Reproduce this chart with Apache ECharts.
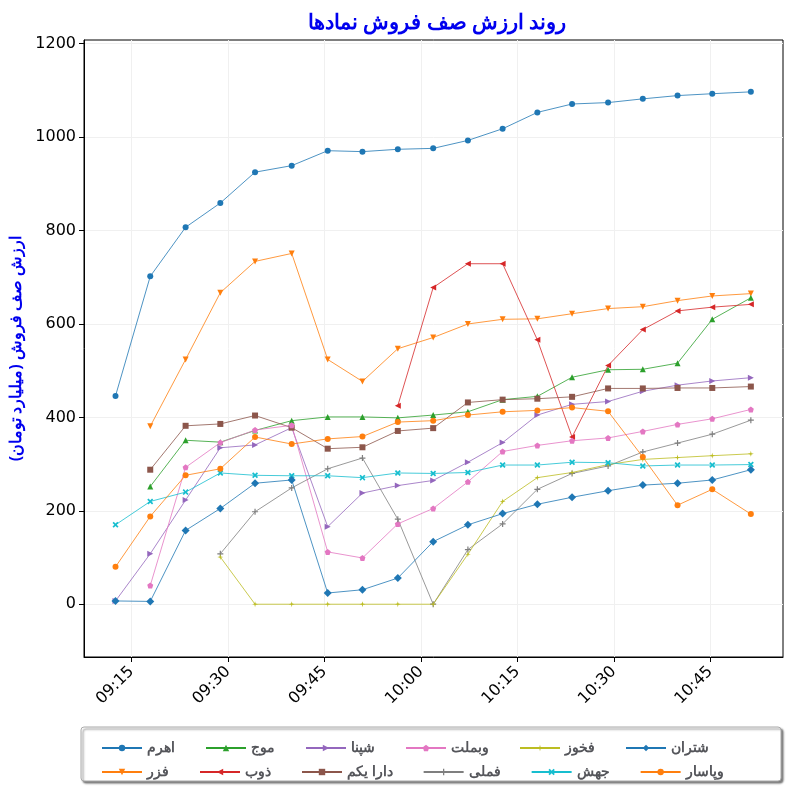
<!DOCTYPE html><html><head><meta charset="utf-8"><script src="https://cdn.jsdelivr.net/npm/echarts@6/dist/echarts.min.js"></script></head><body style="margin:0"><div id="c" style="width:800px;height:800px"></div><script>
const times=[552.5,557.9,563.4,568.8,574.2,579.9,585.5,590.9,596.4,601.9,607.3,612.7,618.1,623.5,629.1,634.5,639.9,645.3,651.3];
const names=['اهرم','فزر','موج','ذوب','شپنا','دارا یکم','وبملت','فملی','فخوز','جهش','شتران','وپاسار'];
const N=null;
const ahrom=[446,702,807,859,925,939,971,969,974,976,993,1018,1053,1071,1074,1082,1089,1093,1097];
const fazar=[N,381,524,667,734,751,524,477,547,571,600,610,611,622,633,637,650,660,665];
const mowj=[N,252,351,347,372,393,401,401,399,405,412,438,445,486,502,503,516,610,656];
const zob=[N,N,N,N,N,N,N,N,425,678,729,729,566,358,511,588,628,636,642];
const shepna=[7,108,223,335,341,378,166,238,254,265,304,346,405,428,434,456,469,478,485];
const dara=[N,288,382,386,404,378,333,336,371,377,432,438,440,444,462,462,463,463,466];
const vbmellat=[N,40,293,346,373,383,112,99,172,205,262,327,340,350,356,370,385,397,417];
const fameli=[N,N,N,108,198,249,290,313,182,0,117,172,246,280,296,326,345,364,394];
const fakhoz=[N,N,N,101,0,0,0,0,0,0,107,220,271,282,299,310,314,318,322];
const jahesh=[170,220,240,281,276,275,275,271,281,280,282,298,298,304,303,296,298,298,299];
const shtran=[7,6,158,205,259,266,24,31,56,134,170,194,214,229,243,255,259,266,288];
const vpasar=[80,188,276,290,358,343,354,359,390,393,405,412,415,421,413,315,212,246,193];
const data=[ahrom,fazar,mowj,zob,shepna,dara,vbmellat,fameli,fakhoz,jahesh,shtran,vpasar];
const colors=['#1f77b4','#ff7f0e','#2ca02c','#d62728','#9467bd','#8c564b','#e377c2','#7f7f7f','#bcbd22','#17becf','#1f77b4','#ff7f0e'];
const pent='path://M5,0L10,3.8L8.1,10H1.9L0,3.8Z';
const symbols=['circle','triangle','triangle','triangle','triangle','rect',pent,'path://M4,0H6V4H10V6H6V10H4V6H0V4H4Z','path://M5,0L6,4L10,5L6,6L5,10L4,6L0,5L4,4Z','path://M0,2L2,0L5,3L8,0L10,2L7,5L10,8L8,10L5,7L2,10L0,8L3,5Z','diamond','circle'];
const rot=[0,180,0,90,270,0,0,0,0,0,0,0];
const ticks=[555,570,585,600,615,630,645];
const yt=[0,200,400,600,800,1000,1200];
const fmt=v=>{const h=Math.floor(v/60),m=Math.round(v%60);return String(h).padStart(2,'0')+':'+String(m).padStart(2,'0');};
const series=names.map((n,i)=>({name:n,type:'line',data:times.map((t,j)=>[t,data[i][j]]),symbol:symbols[i],symbolRotate:rot[i],symbolSize:i==10?8:6,lineStyle:{width:0.8,color:colors[i]},itemStyle:{color:colors[i]}}));
const row1=[0,2,4,6,8,10].map(i=>names[i]);
const row2=[1,3,5,7,9,11].map(i=>names[i]);
const lg=(d,top)=>({data:d,left:96,top:top,itemGap:30,itemWidth:40,itemHeight:8,textStyle:{fontSize:14,fontFamily:'Noto Sans',fontWeight:'bold'}});
echarts.init(document.getElementById('c')).setOption({
animation:false,
title:{text:'روند ارزش صف فروش نمادها',left:432,top:8,textAlign:'center',textStyle:{color:'#0000ee',fontSize:21,fontWeight:'bold',fontFamily:'Noto Sans'}},
graphic:[{type:'rect',shape:{x:81,y:727,width:700,height:54,r:3},style:{fill:'#fff',stroke:'#aaa',lineWidth:1,shadowColor:'rgba(0,0,0,0.5)',shadowBlur:2,shadowOffsetX:2,shadowOffsetY:2},z:-1}],
grid:{left:80,right:17,top:40,bottom:143,show:true,borderColor:'#000',borderWidth:1},
xAxis:{type:'value',min:547.6,max:656.3,splitLine:{show:true,lineStyle:{color:'#f0f0f0'}},axisLine:{onZero:false,lineStyle:{color:'#000'}},axisTick:{customValues:ticks,lineStyle:{color:'#000'}},axisLabel:{customValues:ticks,formatter:fmt,rotate:45,fontSize:16,color:'#000',margin:12,fontFamily:'DejaVu Sans'}},
yAxis:{type:'value',min:-113,max:1208,name:'ارزش صف فروش (میلیارد تومان)',nameLocation:'middle',nameGap:60,nameTextStyle:{color:'#0000ee',fontSize:16,fontWeight:'bold',fontFamily:'Noto Sans'},splitLine:{show:true,lineStyle:{color:'#f0f0f0'}},axisLine:{show:true,lineStyle:{color:'#000'}},axisTick:{show:true,customValues:yt},axisLabel:{customValues:yt,formatter:v=>String(v),fontSize:16,color:'#000',fontFamily:'DejaVu Sans'}},
legend:[lg(row1,736),lg(row2,760)],
series:series
});
</script></body></html>
